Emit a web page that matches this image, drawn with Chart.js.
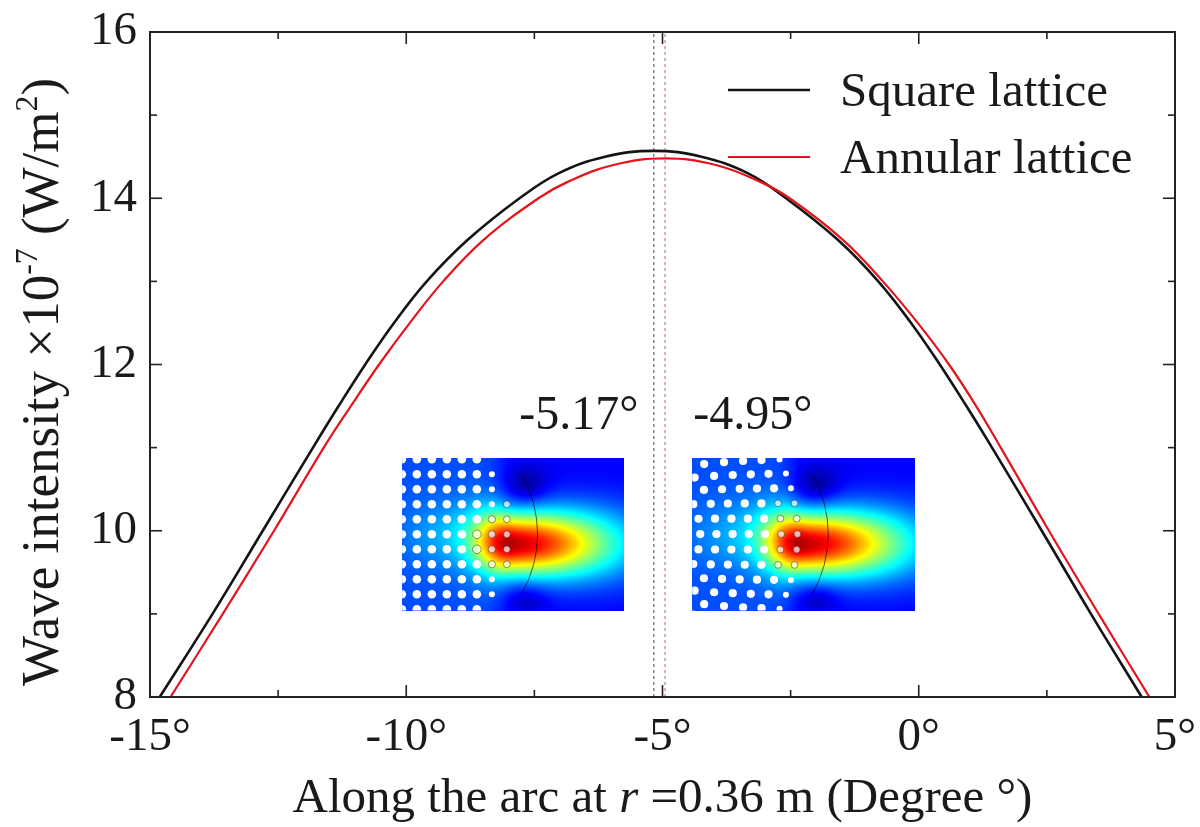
<!DOCTYPE html>
<html>
<head>
<meta charset="utf-8">
<title>Wave intensity along the arc</title>
<script src="https://cdn.jsdelivr.net/npm/chart.js@4.4.0/dist/chart.umd.min.js"></script>
<style>
  html, body { margin: 0; padding: 0; background: #fff; }
  #wrap { width: 1200px; height: 827px; }
</style>
</head>
<body>
<div id="wrap"><canvas id="chart" width="1200" height="827"></canvas></div>
<script>
// values (degrees, intensity x1e-7 W/m2)
const squareX = [-14.81, -13.78, -12.80, -11.82, -11.32, -10.80, -10.24, -9.60, -8.80, -7.79, -7.03, -6.12, -5.17, -4.24, -3.33, -2.59, -1.58, -0.79, -0.15, 0.41, 0.93, 1.43, 2.40, 3.36, 4.35];
const squareY = [8, 9, 10, 11, 11.5, 12, 12.5, 13, 13.5, 14, 14.3, 14.5, 14.57, 14.5, 14.3, 14, 13.5, 13, 12.5, 12, 11.5, 11, 10, 9, 8];
const annularX = [-14.60, -13.58, -12.58, -11.61, -11.08, -10.53, -9.93, -9.28, -8.49, -7.42, -6.84, -5.96, -4.95, -3.96, -3.10, -2.52, -1.48, -0.70, -0.02, 0.59, 1.12, 1.60, 2.54, 3.51, 4.50];
const annularY = [8, 9, 10, 11, 11.5, 12, 12.5, 13, 13.5, 14, 14.2, 14.4, 14.48, 14.4, 14.2, 14, 13.5, 13, 12.5, 12, 11.5, 11, 10, 9, 8];

const seriesNames = ['Square lattice', 'Annular lattice'];
const peakAngles = [-5.17, -4.95];
const peakLabels = ['-5.17°', '-4.95°'];

const xTicks = [-15, -10, -5, 0, 5];
const xMinorTicks = [-12.5, -7.5, -2.5, 2.5];
const yTicks = [8, 10, 12, 14, 16];
const yMinorTicks = [9, 11, 13, 15];

const FONT = '"Liberation Serif", "Times New Roman", serif';
const INK = '#1a1a1a';

// where the two field insets and their angle labels sit (axis units)
const insetBoxes = [
  { x0: -10.08, x1: -5.75, y0: 9.04, y1: 10.88, kind: 'square' },
  { x0: -4.42, x1: -0.07, y0: 9.04, y1: 10.88, kind: 'annular' }
];
const labelSpots = [
  { x: -5.47, y: 11.22, align: 'right' },
  { x: -4.40, y: 11.22, align: 'left' }
];

const toPoints = (xs, ys) => xs.map((x, i) => ({ x: x, y: ys[i] }));

// jet colour map
function jet(t) {
  const c = v => Math.max(0, Math.min(1, v)) * 255;
  return [c(1.5 - Math.abs(4 * t - 3)), c(1.5 - Math.abs(4 * t - 2)), c(1.5 - Math.abs(4 * t - 1))];
}

// rough picture of the focused field, only for the inset thumbnails
function fieldValue(u, v) {
  const dv = v - 0.56, dm = v - 0.5, du = u - 0.5;
  const right = 1 / (1 + Math.exp(-(u - 0.44) / 0.03));
  let t = 0.2 * (1 - right) + 0.12 * right;
  // lighter middle of the lattice
  t += 0.16 * (1 - right) * Math.exp(-((dm / 0.22) ** 2)) * Math.min(1, 0.2 + u / 0.4);
  // focal spot stretched to the right
  const Lu = du < 0 ? 0.15 : 0.45;
  const Lv = 0.2 + 0.1 * Math.max(0, du);
  t += 0.8 * Math.exp(-((du / Lu) ** 2) - ((dv / Lv) ** 2));
  // dark lobes beside the focus
  t -= 0.1 * Math.exp(-(((u - 0.56) / 0.09) ** 2) - (((v - 0.18) / 0.12) ** 2));
  t -= 0.07 * Math.exp(-(((u - 0.56) / 0.09) ** 2) - (((v - 0.92) / 0.1) ** 2));
  return t;
}

function squareDots(w, h) {
  const pts = [];
  for (let i = 0; i <= 7; i++) {
    for (let j = 0; j <= 10; j++) {
      if (i === 7 && (j < 3 || j > 7)) continue;
      if (i >= 6 && (j === 0 || j === 10)) continue;
      let ring = false, r = 4.3;
      if (i === 6) { ring = j >= 4 && j <= 7; r = ring ? 3.6 : 3; }
      if (i === 7) { ring = true; r = 3.4; }
      if (i === 5 && (j === 5 || j === 6)) ring = true;
      pts.push({ px: 15 * i - 0.3, py: 1.7 + 15 * j, r: r, ring: ring });
    }
  }
  return pts;
}

function annularDots(w, h) {
  const pts = [];
  const cx = -60, cy = h / 2;
  for (let k = 0; k <= 6; k++) {
    const rad = 68 + 16.2 * k;
    const step = 15.5 / rad;
    for (let n = -25; n <= 25; n++) {
      const a = n * step;
      if (Math.abs(a) > Math.PI / 2) continue;
      const px = cx + rad * Math.cos(a), py = cy + rad * Math.sin(a);
      if (px < -5 || py < -5 || py > h + 5) continue;
      const ring = k >= 5 && Math.abs(py - cy) < 45;
      pts.push({ px: px, py: py, r: ring ? 3.4 : (k === 6 ? 3 : 4.1), ring: ring });
    }
  }
  return pts;
}

function drawInset(ctx, x0, y0, w, h, kind) {
  w = Math.round(w); h = Math.round(h);
  const off = document.createElement('canvas');
  off.width = w; off.height = h;
  const octx = off.getContext('2d');
  const img = octx.createImageData(w, h);
  for (let py = 0; py < h; py++) {
    for (let px = 0; px < w; px++) {
      const c = jet(fieldValue(px / w, py / h));
      const k = (py * w + px) * 4;
      img.data[k] = c[0]; img.data[k + 1] = c[1]; img.data[k + 2] = c[2]; img.data[k + 3] = 255;
    }
  }
  octx.putImageData(img, 0, 0);

  ctx.save();
  ctx.drawImage(off, x0, y0);
  ctx.beginPath();
  ctx.rect(x0, y0, w, h);
  ctx.clip();

  // lens arc
  ctx.strokeStyle = 'rgba(0,0,0,0.6)';
  ctx.lineWidth = 1;
  ctx.beginPath();
  ctx.arc(x0 + 0.61 * w - 120, y0 + h / 2, 120, -0.52, 0.52);
  ctx.stroke();

  const dots = kind === 'square' ? squareDots(w, h) : annularDots(w, h);
  dots.forEach(d => {
    ctx.beginPath();
    ctx.arc(x0 + d.px, y0 + d.py, d.r, 0, Math.PI * 2);
    if (d.ring) {
      ctx.fillStyle = 'rgba(255,255,255,0.7)';
      ctx.fill();
      ctx.strokeStyle = 'rgba(30,30,30,0.6)';
      ctx.lineWidth = 0.8;
      ctx.stroke();
    } else {
      ctx.fillStyle = '#ffffff';
      ctx.fill();
    }
  });
  ctx.restore();
}

// draws a run of text pieces (plain / italic / superscript) centred on cx
function drawRich(ctx, pieces, cx, baseY, size) {
  const fontOf = p => (p.italic ? 'italic ' : '') + (p.sup ? size * 0.6 : size) + 'px ' + FONT;
  let total = 0;
  pieces.forEach(p => { ctx.font = fontOf(p); p.w = ctx.measureText(p.t).width; total += p.w; });
  let x = cx - total / 2;
  ctx.textAlign = 'left';
  ctx.textBaseline = 'alphabetic';
  pieces.forEach(p => {
    ctx.font = fontOf(p);
    ctx.fillText(p.t, x, p.sup ? baseY - size * 0.4 : baseY);
    x += p.w;
  });
}

const decor = {
  id: 'decor',
  beforeDatasetsDraw(chart) {
    const ctx = chart.ctx, xs = chart.scales.x, ys = chart.scales.y;
    insetBoxes.forEach(b => {
      const px0 = xs.getPixelForValue(b.x0), px1 = xs.getPixelForValue(b.x1);
      const py0 = ys.getPixelForValue(b.y1), py1 = ys.getPixelForValue(b.y0);
      drawInset(ctx, px0, py0, px1 - px0, py1 - py0, b.kind);
    });
    ctx.save();
    ctx.fillStyle = INK;
    ctx.font = '48px ' + FONT;
    ctx.textBaseline = 'alphabetic';
    labelSpots.forEach((s, i) => {
      ctx.textAlign = s.align;
      ctx.fillText(peakLabels[i], xs.getPixelForValue(s.x), ys.getPixelForValue(s.y));
    });
    ctx.restore();
  },
  afterDatasetsDraw(chart) {
    const ctx = chart.ctx, xs = chart.scales.x, ys = chart.scales.y;
    const { left, right, top, bottom } = chart.chartArea;
    ctx.save();
    ctx.strokeStyle = '#222';
    ctx.lineWidth = 2;
    ctx.strokeRect(left, top, right - left, bottom - top);

    ctx.lineWidth = 1.6;
    const seg = (a, b, c, d) => { ctx.beginPath(); ctx.moveTo(a, b); ctx.lineTo(c, d); ctx.stroke(); };
    const xMarks = (vals, len) => vals.forEach(v => {
      const p = xs.getPixelForValue(v);
      seg(p, bottom, p, bottom - len);
      seg(p, top, p, top + len);
    });
    const yMarks = (vals, len) => vals.forEach(v => {
      const p = ys.getPixelForValue(v);
      seg(left, p, left + len, p);
      seg(right, p, right - len, p);
    });
    xMarks(xTicks, 12); xMarks(xMinorTicks, 7);
    yMarks(yTicks, 12); yMarks(yMinorTicks, 7);

    // legend, top right inside the frame
    [0, 1].forEach(i => {
      const ds = chart.data.datasets[i];
      const ly = top + 58 + i * 67;
      ctx.strokeStyle = ds.borderColor;
      ctx.lineWidth = ds.borderWidth;
      seg(right - 447, ly, right - 365, ly);
      ctx.fillStyle = INK;
      ctx.font = '49px ' + FONT;
      ctx.textAlign = 'left';
      ctx.textBaseline = 'middle';
      ctx.fillText(ds.label, right - 335, ly + 3);
    });
    ctx.restore();
  },
  afterDraw(chart) {
    const ctx = chart.ctx;
    const { left, right } = chart.chartArea;
    ctx.save();
    ctx.fillStyle = INK;
    drawRich(ctx, [
      { t: 'Along the arc at ' },
      { t: 'r', italic: true },
      { t: ' =0.36 m (Degree °)' }
    ], (left + right) / 2, 812, 49);

    ctx.translate(58, 382);
    ctx.rotate(-Math.PI / 2);
    drawRich(ctx, [
      { t: 'Wave intensity ×10' },
      { t: '-7', sup: true },
      { t: ' (W/m' },
      { t: '2', sup: true },
      { t: ')' }
    ], 0, 0, 53);
    ctx.restore();
  }
};

const peakLine = (x, color, order) => ({
  label: 'peak ' + x,
  data: [{ x: x, y: 8 }, { x: x, y: 16 }],
  borderColor: color,
  borderWidth: 1.3,
  borderDash: [3, 3],
  tension: 0,
  order: order
});

new Chart(document.getElementById('chart'), {
  type: 'line',
  data: {
    datasets: [
      { label: seriesNames[0], data: toPoints(squareX, squareY), borderColor: '#141414', borderWidth: 2.6, tension: 0.4, order: 1 },
      { label: seriesNames[1], data: toPoints(annularX, annularY), borderColor: '#e3141b', borderWidth: 2.2, tension: 0.4, order: 0 },
      peakLine(peakAngles[0], '#707070', 2),
      peakLine(peakAngles[1], '#c98a8a', 3)
    ]
  },
  options: {
    responsive: false,
    animation: false,
    devicePixelRatio: 1,
    layout: { padding: { top: 32, right: 25, left: 0, bottom: 0 } },
    elements: {
      point: { radius: 0 },
      line: { fill: false }
    },
    plugins: { legend: { display: false }, tooltip: { enabled: false } },
    scales: {
      x: {
        type: 'linear', min: -15, max: 5,
        afterBuildTicks: s => { s.ticks = xTicks.map(v => ({ value: v })); },
        ticks: {
          callback: v => v + '°',
          font: { family: FONT, size: 47 }, color: INK,
          padding: 12, maxRotation: 0, autoSkip: false
        },
        grid: { display: false, drawTicks: false },
        border: { display: false },
        afterFit: s => { s.height = 130; s.paddingLeft = 0; s.paddingRight = 0; }
      },
      y: {
        type: 'linear', min: 8, max: 16,
        afterBuildTicks: s => { s.ticks = yTicks.map(v => ({ value: v })); },
        ticks: { font: { family: FONT, size: 47 }, color: INK, padding: 13 },
        grid: { display: false, drawTicks: false },
        border: { display: false },
        afterFit: s => { s.width = 150; s.paddingTop = 0; s.paddingBottom = 0; }
      }
    }
  },
  plugins: [decor]
});
</script>
</body>
</html>
